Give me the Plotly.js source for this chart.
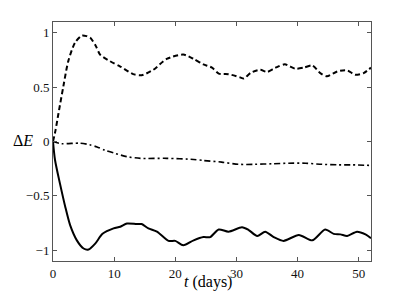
<!DOCTYPE html>
<html>
<head>
<meta charset="utf-8">
<script src="https://cdn.plot.ly/plotly-3.0.1.min.js"></script>
<style>html,body{margin:0;padding:0;background:#fff;}#chart{width:409px;height:294px;}</style>
</head>
<body>
<div id="chart"></div>
<script>
// Upper (dashed) series
var tDashed = [0, 0.4, 0.9, 1.7, 2.5, 3.6, 4.7, 5.5, 6.1, 7.0, 7.7, 9.3, 11, 13.1, 14.5, 16.4, 18.6, 21.3, 23, 24.6, 26, 27.1, 28.7, 30.6, 31.2, 32.4, 33.9, 35, 36.4, 37.9, 39.6, 41, 42.4, 43.7, 44.8, 46.5, 48.1, 49.4, 50.8, 52];
var vDashed = [0, 0.1, 0.26, 0.51, 0.74, 0.91, 0.975, 0.97, 0.955, 0.88, 0.80, 0.74, 0.69, 0.62, 0.61, 0.66, 0.76, 0.80, 0.76, 0.71, 0.68, 0.625, 0.62, 0.59, 0.58, 0.635, 0.66, 0.64, 0.68, 0.71, 0.67, 0.68, 0.70, 0.63, 0.60, 0.645, 0.655, 0.615, 0.63, 0.68];
// Middle (dash-dot) series
var tDashDot = [0, 1.4, 4.4, 6, 7.2, 8.5, 9.9, 12.1, 14.3, 18.6, 23, 24.6, 27.6, 30.3, 33, 35.8, 38.5, 41.3, 44, 46.7, 49, 52];
var vDashDot = [0, -0.02, -0.015, -0.03, -0.05, -0.08, -0.105, -0.14, -0.155, -0.155, -0.165, -0.175, -0.19, -0.21, -0.21, -0.205, -0.2, -0.2, -0.21, -0.215, -0.215, -0.22];
// Lower (solid) series
var tSolid = [0, 0.33, 1.15, 2, 2.8, 3.9, 5, 5.8, 6.9, 8.1, 9.9, 11, 12.1, 13.7, 14.5, 15.6, 17, 18.9, 20, 21.3, 23, 24.6, 25.7, 27.1, 28.7, 30.9, 32, 33.4, 34.7, 36.1, 37.7, 40.2, 42.4, 44.5, 45.9, 47, 48.1, 49.7, 51.1, 52];
var vSolid = [0, -0.17, -0.39, -0.6, -0.77, -0.91, -0.985, -0.995, -0.94, -0.85, -0.80, -0.785, -0.755, -0.76, -0.76, -0.80, -0.83, -0.915, -0.915, -0.955, -0.91, -0.88, -0.88, -0.81, -0.83, -0.79, -0.815, -0.87, -0.83, -0.88, -0.915, -0.86, -0.91, -0.81, -0.85, -0.855, -0.87, -0.83, -0.855, -0.89];

var xTicks = [0, 10, 20, 30, 40, 50];
var xTickText = ['0', '10', '20', '30', '40', '50'];
var yTicks = [-1, -0.5, 0, 0.5, 1];
var yTickText = ['\u22121', '\u22120.5', '0', '0.5', '1'];

var serif = "Liberation Serif";

var traces = [
  {x: tDashed, y: vDashed, mode: 'lines', line: {color: '#000', width: 2, dash: '5px,3px', shape: 'spline', smoothing: 0.7}},
  {x: tDashDot, y: vDashDot, mode: 'lines', line: {color: '#000', width: 1.6, dash: '6px,3px,2px,3px', shape: 'spline', smoothing: 0.7}},
  {x: tSolid, y: vSolid, mode: 'lines', line: {color: '#000', width: 2, shape: 'spline', smoothing: 0.7}}
];

function axis(extra) {
  var a = {
    showgrid: false, zeroline: false, showline: true, linecolor: '#555', linewidth: 1,
    mirror: 'ticks', ticks: 'inside', ticklen: 4, tickcolor: '#555', tickwidth: 1,
    tickfont: {family: serif, size: 13, color: '#111'}
  };
  for (var k in extra) a[k] = extra[k];
  return a;
}

var layout = {
  width: 409, height: 294,
  margin: {l: 53, r: 38, t: 22, b: 33},
  paper_bgcolor: '#fff', plot_bgcolor: '#fff',
  font: {family: serif, color: '#000'},
  showlegend: false,
  xaxis: axis({range: [0, 52], tickvals: xTicks, ticktext: xTickText}),
  yaxis: axis({range: [-1.1, 1.1], tickvals: yTicks, ticktext: yTickText}),
  annotations: [
    {text: '\u0394<i>E</i>', xref: 'paper', yref: 'y', x: -0.094, y: 0.01, xanchor: 'center', yanchor: 'middle', showarrow: false,
     font: {family: serif, size: 16, color: '#000'}},
    {text: '<i>t</i> (days)', xref: 'x', yref: 'paper', x: 25.3, y: -0.088, xanchor: 'center', yanchor: 'middle', showarrow: false,
     font: {family: serif, size: 16, color: '#000'}}
  ]
};

Plotly.newPlot('chart', traces, layout, {displayModeBar: false, staticPlot: true});
</script>
</body>
</html>
